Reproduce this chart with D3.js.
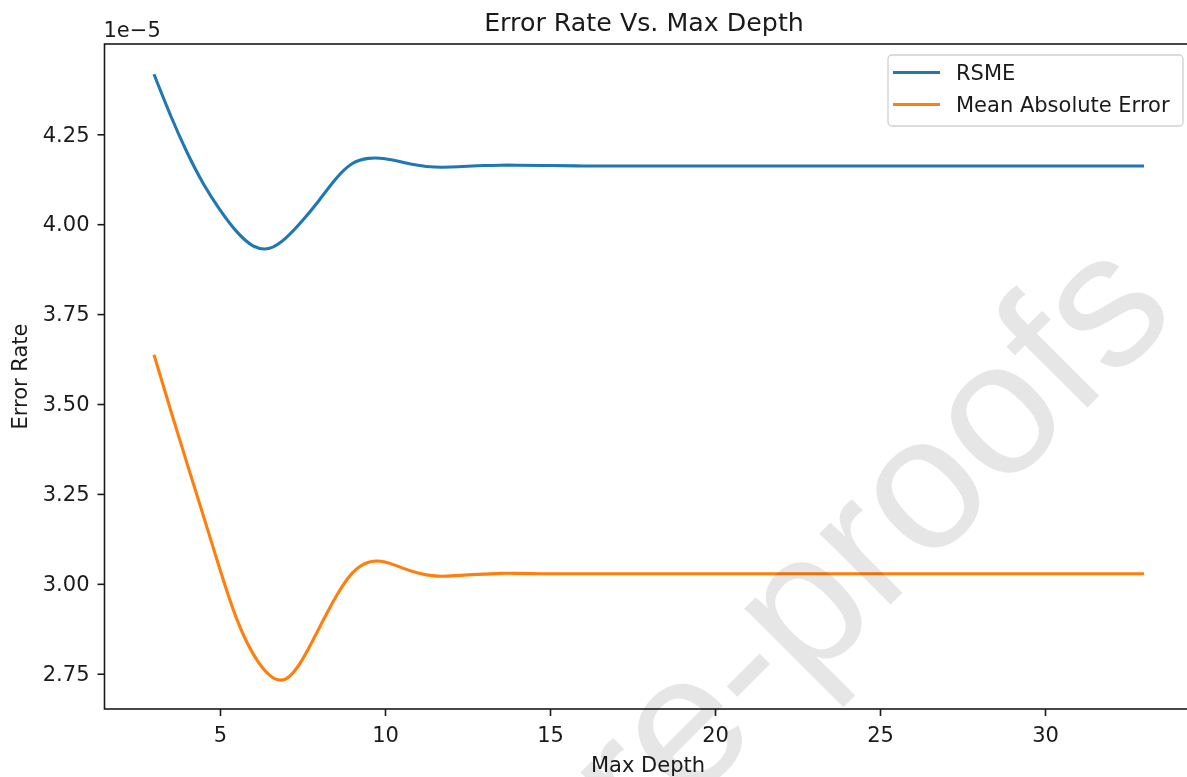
<!DOCTYPE html>
<html>
<head>
<meta charset="utf-8">
<script src="https://cdn.jsdelivr.net/npm/d3@7"></script>
<style>
  html, body { margin: 0; padding: 0; background: #fff; }
  svg { display: block; }
  text { font-family: "DejaVu Sans", sans-serif; }
</style>
</head>
<body>
<svg id="chart" width="1187" height="777"></svg>
<script>
// Max depth settings evaluated
const depth = [3, 3.5, 4, 4.5, 5, 5.5, 6, 6.5, 7, 7.5, 8, 8.5, 9, 9.5, 10, 10.5, 11, 11.5, 12, 12.5, 13, 13.5, 14,
  15, 16, 17, 18, 19, 20, 21, 22, 23, 24, 25, 26, 27, 28, 29, 30, 31, 32, 33];

// Root mean squared error per depth
const rsme = [4.417, 4.303, 4.200, 4.112, 4.040, 3.980, 3.940, 3.933, 3.962, 4.010, 4.066, 4.125, 4.168, 4.183, 4.182,
  4.173, 4.164, 4.159, 4.159, 4.161, 4.163, 4.164, 4.164,
  4.163, 4.162, 4.162, 4.162, 4.162, 4.162, 4.162, 4.162, 4.162, 4.162, 4.162, 4.162, 4.162, 4.162, 4.162, 4.162, 4.162, 4.162, 4.162]
  .map(v => v * 1e-5);

// Mean absolute error per depth
const mae = [3.637, 3.484, 3.335, 3.188, 3.040, 2.904, 2.806, 2.746, 2.736, 2.790, 2.876, 2.962, 3.029, 3.060, 3.061,
  3.045, 3.030, 3.022, 3.022, 3.025, 3.027, 3.029, 3.029,
  3.028, 3.028, 3.028, 3.028, 3.028, 3.028, 3.028, 3.028, 3.028, 3.028, 3.028, 3.028, 3.028, 3.028, 3.028, 3.028, 3.028, 3.028, 3.028]
  .map(v => v * 1e-5);

const xTicks = [5, 10, 15, 20, 25, 30];
const yTicks = [2.75, 3.00, 3.25, 3.50, 3.75, 4.00, 4.25].map(v => v * 1e-5);

const seriesNames = ["RSME", "Mean Absolute Error"];
const seriesColors = ["#1f77b4", "#ff7f0e"];

const svg = d3.select("#chart");
const plotLeft = 104.5, plotRight = 1193.5, plotTop = 44, plotBottom = 709;
const fs = "21px";

// Axis limits padded by 5% of the data span on each side
function padded(ext) {
  const p = (ext[1] - ext[0]) * 0.05;
  return [ext[0] - p, ext[1] + p];
}
const x = d3.scaleLinear().domain(padded(d3.extent(depth))).range([plotLeft, plotRight]);
const y = d3.scaleLinear().domain(padded(d3.extent(rsme.concat(mae)))).range([plotBottom, plotTop]);

const ink = "#1a1a1a";

// Plot lines
const line = d3.line()
  .x(d => x(d[0]))
  .y(d => y(d[1]))
  .curve(d3.curveNatural);

[rsme, mae].forEach((vals, i) => {
  svg.append("path")
    .datum(depth.map((d, j) => [d, vals[j]]))
    .attr("d", line)
    .attr("fill", "none")
    .attr("stroke", seriesColors[i])
    .attr("stroke-width", 3.1)
    .attr("stroke-linejoin", "round")
    .attr("stroke-linecap", "butt");
});

// Axes
const xAxis = d3.axisBottom(x).tickValues(xTicks).tickSize(7).tickPadding(11).tickFormat(d3.format("d"));
const yAxis = d3.axisLeft(y).tickValues(yTicks).tickSize(7).tickPadding(8).tickFormat(d => (d / 1e-5).toFixed(2));

const gx = svg.append("g").attr("transform", `translate(0,${plotBottom})`).call(xAxis);
const gy = svg.append("g").attr("transform", `translate(${plotLeft},0)`).call(yAxis);
[gx, gy].forEach(g => {
  g.select(".domain").remove();
  g.selectAll(".tick line").attr("stroke", ink).attr("stroke-width", 1.6);
  g.selectAll(".tick text").attr("fill", ink).style("font-size", fs).style("font-family", "DejaVu Sans");
});

// Frame
svg.append("rect")
  .attr("x", plotLeft).attr("y", plotTop)
  .attr("width", plotRight - plotLeft).attr("height", plotBottom - plotTop)
  .attr("fill", "none").attr("stroke", ink).attr("stroke-width", 1.6);

// Offset label for the y axis
svg.append("text").attr("x", plotLeft - 1).attr("y", 37)
  .attr("fill", ink).style("font-size", fs).text("1e\u22125");

// Title and axis labels
svg.append("text").attr("x", 644).attr("y", 31)
  .attr("text-anchor", "middle").attr("fill", ink).style("font-size", "25.3px")
  .text("Error Rate Vs. Max Depth");

svg.append("text").attr("x", 648).attr("y", 772)
  .attr("text-anchor", "middle").attr("fill", ink).style("font-size", fs)
  .text("Max Depth");

svg.append("text")
  .attr("transform", `translate(27,${(plotTop + plotBottom) / 2}) rotate(-90)`)
  .attr("text-anchor", "middle").attr("fill", ink).style("font-size", fs)
  .text("Error Rate");

// Legend
const lg = svg.append("g");
lg.append("rect").attr("x", 888).attr("y", 55).attr("width", 295).attr("height", 71)
  .attr("rx", 4).attr("fill", "#fff").attr("fill-opacity", 0.8)
  .attr("stroke", "#d0d0d0").attr("stroke-width", 1.3);
seriesNames.forEach((name, i) => {
  const ly = 72.5 + i * 32;
  lg.append("line").attr("x1", 893).attr("x2", 940).attr("y1", ly).attr("y2", ly)
    .attr("stroke", seriesColors[i]).attr("stroke-width", 3.1);
  lg.append("text").attr("x", 956).attr("y", ly + 7.5)
    .attr("fill", ink).style("font-size", fs).text(name);
});

// Draft watermark across the figure
svg.append("text")
  .attr("transform", "translate(1180,315) rotate(-45)")
  .attr("text-anchor", "end")
  .attr("fill", "#e6e6e6")
  .style("mix-blend-mode", "multiply")
  .style("font-family", "'Liberation Sans', Arial, sans-serif")
  .style("font-size", "190px")
  .text("Pre-proofs");
</script>
</body>
</html>
